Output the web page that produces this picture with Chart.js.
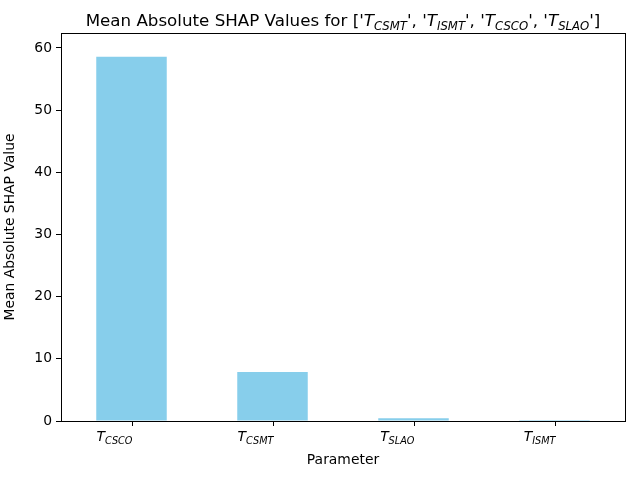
<!DOCTYPE html>
<html>
<head>
<meta charset="utf-8">
<script src="https://cdn.jsdelivr.net/npm/chart.js@4"></script>
<style>body{margin:0;background:#fff}</style>
</head>
<body>
<canvas id="c" width="640" height="480"></canvas>
<script>
// category subscripts (T_sub) and mean |SHAP| values
const categories = ['CSCO', 'CSMT', 'SLAO', 'ISMT']
const shapValues = [58.6, 7.9, 0.45, 0.15]
const yTicks = [0, 10, 20, 30, 40, 50, 60]
const titleSubs = ['CSMT', 'ISMT', 'CSCO', 'SLAO']

const FONT = '"DejaVu Sans", sans-serif'

// draw text runs, sub runs are smaller and lowered
function runsWidth(ctx, runs, size) {
  let w = 0
  for (const r of runs) {
    const s = r.sub ? size * 0.7 : size
    ctx.font = (r.italic ? 'italic ' : '') + s + 'px ' + FONT
    w += ctx.measureText(r.t).width
  }
  return w
}
function drawRuns(ctx, runs, x, y, size, align) {
  const w = runsWidth(ctx, runs, size)
  let cx = align === 'right' ? x - w : align === 'center' ? x - w / 2 : x
  ctx.textBaseline = 'alphabetic'
  ctx.textAlign = 'left'
  ctx.fillStyle = '#000'
  for (const r of runs) {
    const s = r.sub ? size * 0.7 : size
    ctx.font = (r.italic ? 'italic ' : '') + s + 'px ' + FONT
    ctx.fillText(r.t, cx, r.sub ? y + size * 0.22 : y)
    cx += ctx.measureText(r.t).width
  }
}
const T = sub => [{ t: 'T', italic: true }, { t: sub, italic: true, sub: true }]

const decor = {
  id: 'decor',
  afterDraw(chart) {
    const { ctx, chartArea: a, scales } = chart
    ctx.save()
    ctx.strokeStyle = '#000'
    ctx.lineWidth = 1
    ctx.strokeRect(a.left + 0.5, a.top + 0.5, a.right - a.left, a.bottom - a.top)
    // x tick marks and labels
    categories.forEach((c, i) => {
      const x = Math.round(scales.x.getPixelForValue(i)) + 0.5
      ctx.beginPath(); ctx.moveTo(x, a.bottom); ctx.lineTo(x, a.bottom + 5); ctx.stroke()
      drawRuns(ctx, T(c), x, a.bottom + 20, 13.9, 'right')
    })
    ctx.font = '13.9px ' + FONT
    ctx.textAlign = 'center'
    ctx.fillStyle = '#000'
    ctx.fillText('Parameter', (a.left + a.right) / 2, 464)
    // title
    let runs = [{ t: 'Mean Absolute SHAP Values for [' }]
    titleSubs.forEach((s, i) => {
      runs.push({ t: "'" }, ...T(s), { t: "'" })
      if (i < titleSubs.length - 1) runs.push({ t: ', ' })
    })
    runs.push({ t: ']' })
    drawRuns(ctx, runs, (a.left + a.right) / 2, 26, 16.7, 'center')
    ctx.restore()
  }
}

new Chart(document.getElementById('c'), {
  type: 'bar',
  data: {
    labels: categories,
    datasets: [{
      data: shapValues,
      backgroundColor: '#87ceeb',
      barPercentage: 0.5,
      categoryPercentage: 1,
    }],
  },
  options: {
    responsive: false,
    animation: false,
    layout: { padding: { top: 33, right: 15, left: 0, bottom: 0 } },
    plugins: { legend: { display: false }, tooltip: { enabled: false } },
    scales: {
      x: {
        ticks: { display: false },
        grid: { display: false },
        border: { display: false },
        afterFit(s) { s.height = 59 },
      },
      y: {
        min: 0,
        max: 62.4,
        afterBuildTicks(s) { s.ticks = yTicks.map(v => ({ value: v })) },
        ticks: { color: '#000', font: { family: FONT, size: 13.9 }, padding: 4 },
        grid: { drawOnChartArea: false, tickLength: 5, color: '#000' },
        border: { display: false },
        title: { display: true, text: 'Mean Absolute SHAP Value', color: '#000', font: { family: FONT, size: 13.9 }, padding: 2 },
        afterFit(s) { s.width = 61 },
      },
    },
  },
  plugins: [decor],
})
</script>
</body>
</html>
